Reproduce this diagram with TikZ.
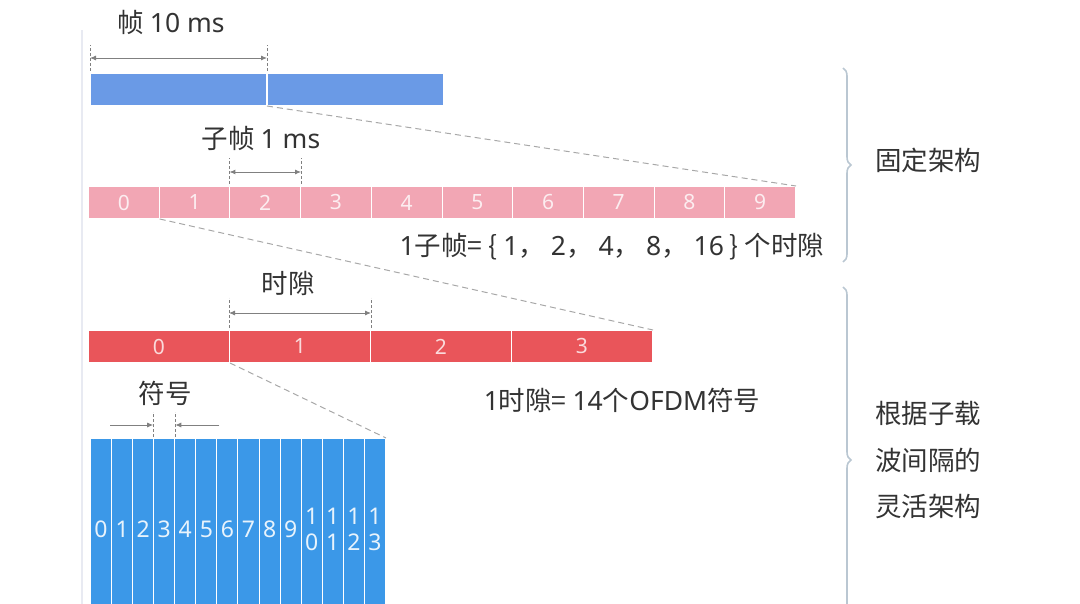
\documentclass[tikz,border=0pt]{standalone}
\usepackage{fontspec}
\setmainfont{Noto Sans CJK SC}
\newfontfamily\latf{Noto Sans}
\usetikzlibrary{decorations.pathreplacing,arrows.meta,calc}
\definecolor{framec}{HTML}{6A9AE6}
\definecolor{pinkc}{HTML}{F2A6B4}
\definecolor{redc}{HTML}{E9555A}
\definecolor{symc}{HTML}{3B98E8}
\definecolor{dimc}{HTML}{808080}
\definecolor{zoomc}{HTML}{A8A8A8}
\definecolor{bracec}{HTML}{BAC7D2}
\definecolor{txtc}{HTML}{333333}
\definecolor{edgec}{HTML}{E8EAF2}
\newcommand{\numfont}{\latf\fontsize{21pt}{26pt}\selectfont}
\newcommand{\symfont}{\latf\fontsize{23pt}{26pt}\selectfont}
\newcommand{\lblfont}{\fontsize{26.5pt}{30pt}\selectfont}
\tikzset{
  cellbox/.style={draw=white, line width=1pt, minimum height=32pt, inner sep=0pt, anchor=north west, font=\numfont},
  fcell/.style={cellbox, fill=framec, minimum width=176pt},
  pcell/.style={cellbox, fill=pinkc, minimum width=70.7pt, text=white!80!pinkc},
  rcell/.style={cellbox, fill=redc, minimum width=141pt, text=white!78!redc},
  scell/.style={cellbox, fill=symc, minimum width=21.07pt, minimum height=182pt, text=white!88!symc, align=center, font=\symfont},
  tickline/.style={draw=dimc, dashed, dash pattern=on 3pt off 2pt, line width=0.7pt},
  dimarrow/.style={draw=dimc, line width=0.9pt, {Latex[length=6pt,width=5pt]}-{Latex[length=6pt,width=5pt]}},
  onearrow/.style={draw=dimc, line width=0.9pt, -{Latex[length=6pt,width=5pt]}},
  zoomline/.style={draw=zoomc, line width=1pt, dash pattern=on 6pt off 4pt},
  lbl/.style={font=\lblfont, text=txtc, inner sep=0pt},
  bracedeco/.style={draw=bracec, line width=1.6pt, decorate, decoration={brace, amplitude=8pt, aspect=0.5}},
}
\begin{document}
\begin{tikzpicture}[x=1pt,y=-1pt]
\useasboundingbox (0,0) rectangle (1080,604);
\clip (0,0) rectangle (1080,604);
% faint left guide line
\draw[edgec, line width=1.5pt] (82,30) -- (82,604);
% frame bar
\node[fcell] (f1) at (90,73) {};
\node[fcell] (f2) at (f1.north east) {};
% subframe bar
\foreach \i in {0,...,9} \node[pcell] (p\i) at ({88+\i*70.7},186) {\i};
% slot bar
\foreach \i in {0,...,3} \node[rcell] (r\i) at ({88+\i*141},330) {\i};
% symbols
\foreach \i in {0,...,9} \node[scell] (s\i) at ({90+\i*21.07},438) {\i};
\node[scell] (s10) at ({90+10*21.07},438) {1\\0};
\node[scell] (s11) at ({90+11*21.07},438) {1\\1};
\node[scell] (s12) at ({90+12*21.07},438) {1\\2};
\node[scell] (s13) at ({90+13*21.07},438) {1\\3};
% zoom lines
\draw[zoomline] (f1.south east) -- (p9.north east);
\draw[zoomline] (p0.south east) -- (r3.north east);
\draw[zoomline] (r0.south east) -- (s13.north east);
% frame dimension
\draw[tickline] ($(f1.north west)+(0,-2)$) -- ++(0,-26);
\draw[tickline] ($(f1.north east)+(0,-2)$) -- ++(0,-26);
\draw[dimarrow] ($(f1.north west)+(0,-15)$) -- ($(f1.north east)+(0,-15)$);
\node[lbl] (tf) at (171,22) {帧 {\latf 10 ms}};
% subframe dimension
\draw[tickline] ($(p2.north west)+(0,-2)$) -- ++(0,-26);
\draw[tickline] ($(p2.north east)+(0,-2)$) -- ++(0,-26);
\draw[dimarrow] ($(p2.north west)+(0,-14)$) -- ($(p2.north east)+(0,-14)$);
\node[lbl] (tp) at (261,138) {子帧 {\latf 1 ms}};
% slot dimension
\draw[tickline] ($(r1.north west)+(0,-2)$) -- ++(0,-30);
\draw[tickline] ($(r1.north east)+(0,-2)$) -- ++(0,-30);
\draw[dimarrow] ($(r1.north west)+(0,-17)$) -- ($(r1.north east)+(0,-17)$);
\node[lbl] (tr) at (288,283) {时隙};
% symbol dimension
\draw[tickline] ($(s3.north west)+(0,-1)$) -- ++(0,-25);
\draw[tickline] ($(s3.north east)+(0,-1)$) -- ++(0,-25);
\coordinate (sal) at ($(s3.north west)+(-43,-13)$);
\coordinate (sar) at ($(s3.north east)+(44,-13)$);
\draw[onearrow] (sal) -- ($(s3.north west)+(0,-13)$);
\draw[onearrow] (sar) -- ($(s3.north east)+(0,-13)$);
\node[lbl] (ts) at (165,393) {符号};
% explanatory texts
\node[lbl] (eq1) at (612,247) {{\latf 1}子帧= \{ {\latf 1}， {\latf 2}， {\latf 4}， {\latf 8}， {\latf 16} \} 个时隙};
\node[lbl] (eq2) at (622,400) {{\latf 1}时隙= {\latf 14}个{\latf OFDM}符号};
% braces
\draw[bracedeco] (843,68) -- (843,262);
\draw[bracedeco] (843,287) -- (843,633);
\node[lbl] (fixed) at (928,160) {固定架构};
\node[lbl] (flex1) at (928,413) {根据子载};
\node[lbl] (flex2) at (928,460) {波间隔的};
\node[lbl] (flex3) at (928,507) {灵活架构};
\end{tikzpicture}
\end{document}
